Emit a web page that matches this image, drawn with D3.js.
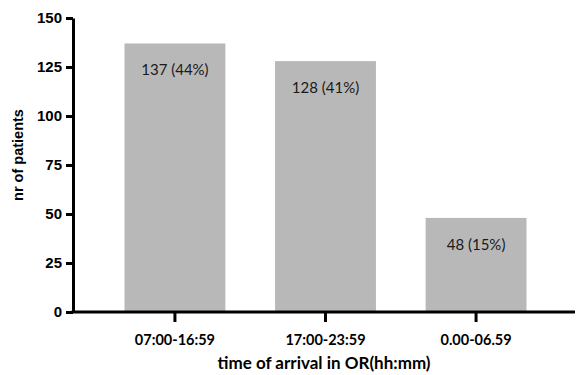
<!DOCTYPE html>
<html><head><meta charset="utf-8">
<script src="https://cdn.jsdelivr.net/npm/d3@7"></script>
<style>body{margin:0;background:#fff}</style>
</head><body>
<svg id="c" width="576" height="375"></svg>
<script>
const categories = ["07:00-16:59", "17:00-23:59", "0.00-06.59"];
const values = [137, 128, 48];
const barLabels = ["137 (44%)", "128 (41%)", "48 (15%)"];
const yTicks = [0, 25, 50, 75, 100, 125, 150];

const svg = d3.select("#c");
const x0 = 73, yTop = 18, yBot = 312;
const x = d3.scaleBand().domain(categories).range([x0, 578]).paddingInner(0.33).paddingOuter(0.342);
const y = d3.scaleLinear().domain([0, 150]).range([yBot, yTop]);
const calib = "Lato, 'Open Sans', sans-serif";

svg.selectAll("rect.bar").data(values).join("rect")
  .attr("class","bar")
  .attr("x",(d,i)=>x(categories[i]))
  .attr("width",x.bandwidth())
  .attr("y",d=>y(d))
  .attr("height",d=>y(0)-y(d))
  .attr("fill","#b8b8b8");

svg.selectAll("text.bl").data(values).join("text")
  .attr("class","bl")
  .attr("x",(d,i)=>x(categories[i])+x.bandwidth()/2)
  .attr("y",d=>y(d)+32)
  .attr("text-anchor","middle")
  .style("font-family",calib)
  .style("font-size","15px")
  .attr("fill","#1a1a1a")
  .text((d,i)=>barLabels[i]);

// y axis
const ya = svg.append("g").attr("transform",`translate(${x0},0)`)
  .call(d3.axisLeft(y).tickValues(yTicks).tickSize(7).tickPadding(4).tickSizeOuter(0));
ya.select(".domain").style("stroke","#000").style("stroke-width","3px");
ya.selectAll(".tick line").style("stroke","#000").style("stroke-width","3px");
ya.selectAll(".tick text").style("font-family","'Liberation Sans', Arial, sans-serif")
  .style("font-weight","bold").style("font-size","15px").attr("fill","#000");

// x axis
const xa = svg.append("g").attr("transform",`translate(0,${yBot})`)
  .call(d3.axisBottom(x).tickSize(10).tickPadding(13).tickSizeOuter(0));
xa.select(".domain").style("stroke","#000").style("stroke-width","3px")
  .attr("d",`M${x0-1.5},0H575`);
xa.selectAll(".tick line").style("stroke","#000").style("stroke-width","3px");
xa.selectAll(".tick text").style("font-family",calib)
  .style("font-weight","bold").style("font-size","14.5px").attr("fill","#000");

svg.append("text").attr("x",324).attr("y",369).attr("text-anchor","middle")
  .style("font-family",calib).style("font-weight","bold")
  .style("font-size","17px").attr("fill","#000").text("time of arrival in OR(hh:mm)");

svg.append("text").attr("transform",`translate(23,155) rotate(-90)`)
  .attr("text-anchor","middle")
  .style("font-family","'Liberation Sans', Arial, sans-serif").style("font-weight","bold")
  .style("font-size","14.5px").attr("fill","#000").text("nr of patients");
</script>
</body></html>
